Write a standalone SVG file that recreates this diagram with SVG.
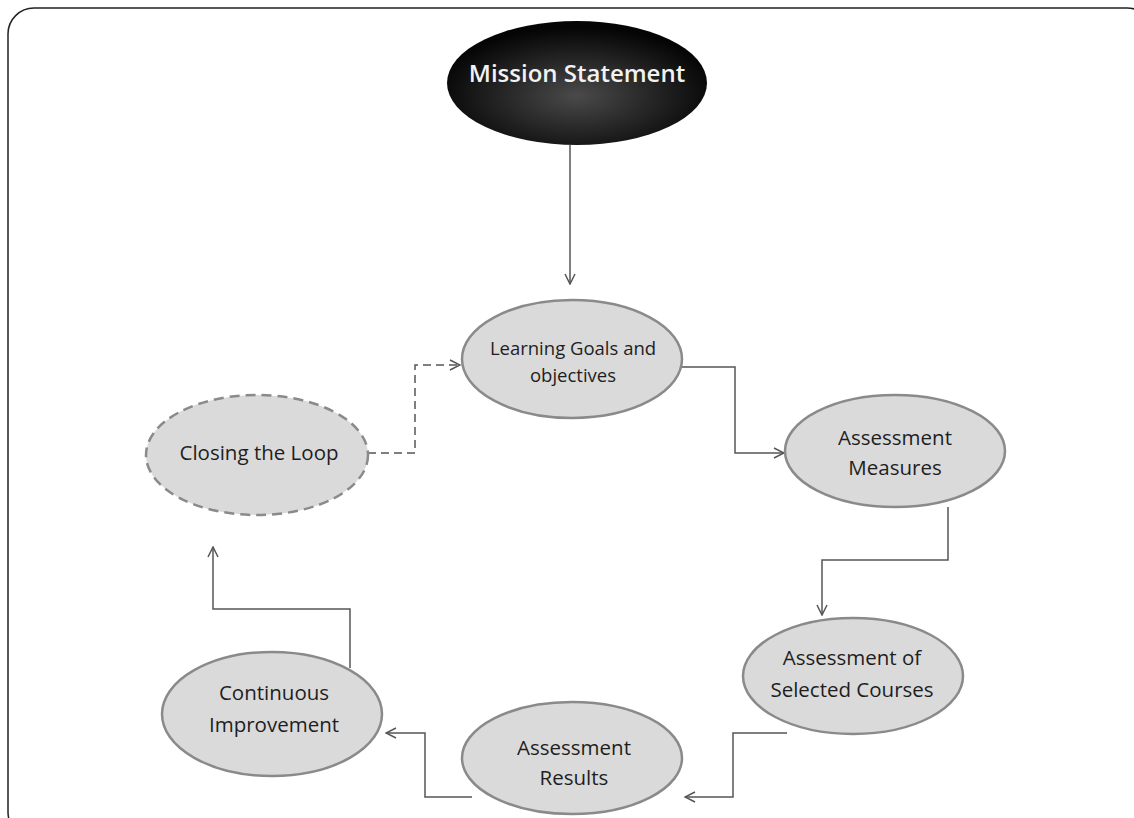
<svg xmlns="http://www.w3.org/2000/svg" width="1134" height="818" viewBox="0 0 1134 818">
<defs>
<radialGradient id="dark" cx="0.5" cy="0.6" r="0.55">
<stop offset="0" stop-color="#4a4a4a"/>
<stop offset="1" stop-color="#050505"/>
</radialGradient>
<marker id="arr" viewBox="0 0 12 12" refX="11" refY="6" markerWidth="12" markerHeight="12" markerUnits="userSpaceOnUse" orient="auto">
<path d="M1,1 L11,6 L1,11" fill="none" stroke="#555" stroke-width="1.5"/>
</marker>
</defs>
<style>
.node{fill:#dadada;stroke:#8a8a8a;stroke-width:2.5}
.t{font-family:"Open Sans","Liberation Sans",sans-serif;font-size:20.5px;fill:#1e1e1e;text-anchor:middle}
.c{fill:none;stroke:#555;stroke-width:1.5}
</style>
<rect x="8" y="8" width="1145" height="830" rx="26" fill="#fff" stroke="#222" stroke-width="1.5"/>
<g id="connectors">
<path class="c" d="M570,145 V284" marker-end="url(#arr)"/>
<path class="c" d="M368,453 H415 V365 H460" stroke-dasharray="8,5" marker-end="url(#arr)"/>
<path class="c" d="M682,367 H735 V453 H784" marker-end="url(#arr)"/>
<path class="c" d="M948,507 V560 H822 V615" marker-end="url(#arr)"/>
<path class="c" d="M787,733 H733 V797 H685" marker-end="url(#arr)"/>
<path class="c" d="M472,797 H425 V733 H386" marker-end="url(#arr)"/>
<path class="c" d="M350,668 V609 H213 V547" marker-end="url(#arr)"/>
</g>
<g id="mission">
<ellipse cx="577" cy="83" rx="130" ry="62" fill="url(#dark)"/>
<text x="577" y="82" font-family="'Open Sans','Liberation Sans',sans-serif" font-size="24" font-weight="600" fill="#f2f2f2" text-anchor="middle">Mission Statement</text>
</g>
<g id="learning">
<ellipse class="node" cx="572" cy="359" rx="110" ry="59"/>
<text class="t" x="573" y="355" style="font-size:18.5px">Learning Goals and</text>
<text class="t" x="573" y="382" style="font-size:18.5px">objectives</text>
</g>
<g id="closing">
<ellipse class="node" cx="257" cy="455" rx="111" ry="60" stroke-dasharray="10,6" stroke-width="3.5"/>
<text class="t" x="259" y="460">Closing the Loop</text>
</g>
<g id="measures">
<ellipse class="node" cx="895" cy="451" rx="110" ry="56"/>
<text class="t" x="895" y="445">Assessment</text>
<text class="t" x="895" y="475">Measures</text>
</g>
<g id="courses">
<ellipse class="node" cx="853" cy="676" rx="110" ry="58"/>
<text class="t" x="852" y="665">Assessment of</text>
<text class="t" x="852" y="697">Selected Courses</text>
</g>
<g id="results">
<ellipse class="node" cx="572" cy="758" rx="110" ry="56"/>
<text class="t" x="574" y="755">Assessment</text>
<text class="t" x="574" y="785">Results</text>
</g>
<g id="improvement">
<ellipse class="node" cx="272" cy="714" rx="110" ry="62"/>
<text class="t" x="274" y="700">Continuous</text>
<text class="t" x="274" y="732">Improvement</text>
</g>
</svg>
